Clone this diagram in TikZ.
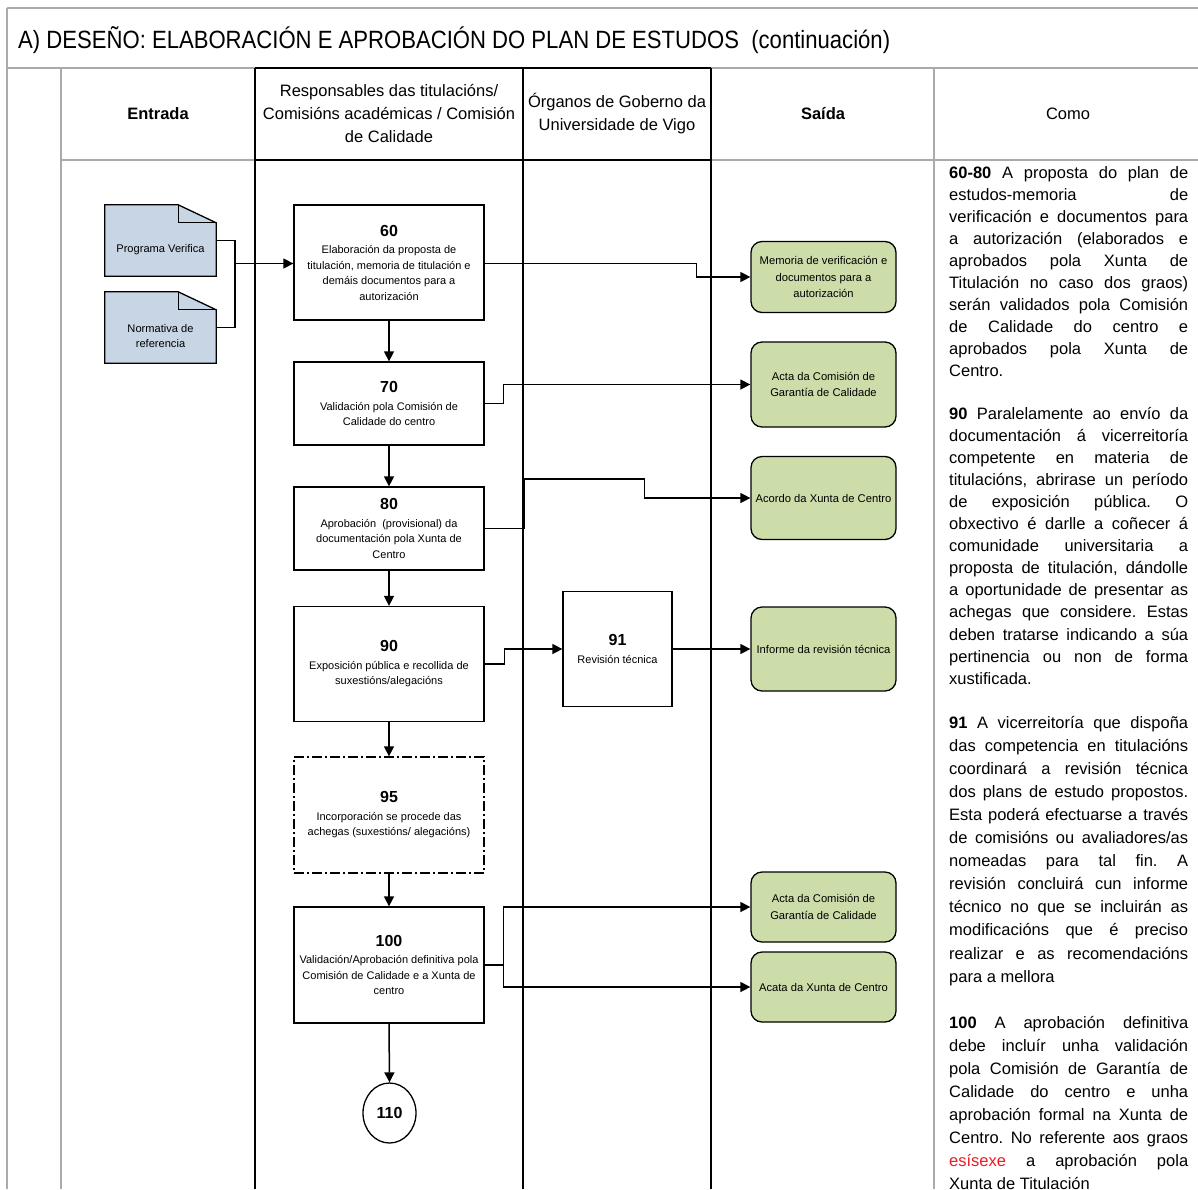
\documentclass[tikz,border=0pt]{standalone}
\usepackage{fontspec}
\setmainfont{Liberation Sans}
\newfontfamily\titlefont[FakeStretch=0.884]{Liberation Sans}
\usetikzlibrary{arrows.meta,shapes.geometric,calc}
\definecolor{docblue}{RGB}{200,213,228}
\definecolor{outgreen}{RGB}{205,221,170}
\definecolor{framegray}{RGB}{170,170,170}
\definecolor{txtred}{RGB}{235,28,36}
\newcommand{\bn}[1]{{\fontsize{16}{16}\selectfont\bfseries #1}}
\newcommand{\comopar}{\frenchspacing\tolerance=10000\relax\hbadness=10000\relax\hyphenpenalty=10000\relax\exhyphenpenalty=10000\relax}
\tikzset{
  frame/.style={draw=framegray, line width=1.5pt},
  lane/.style={draw=black, line width=1.4pt},
  procbox/.style={draw, line width=1.3pt, minimum width=190pt, inner sep=0pt, align=center, font=\fontsize{11}{15.5}\selectfont},
  outbox/.style={draw, fill=outgreen, rounded corners=11pt, line width=1.3pt, minimum width=145pt, inner sep=0pt, align=center, font=\fontsize{11.2}{16.5}\selectfont},
  docnode/.style={minimum width=111pt, minimum height=71pt, inner sep=0pt},
  doctext/.style={align=center, font=\fontsize{11.1}{15.7}\selectfont, inner sep=0pt},
  conn/.style={line width=1.5pt},
  arr/.style={line width=1.5pt, -{Triangle[length=10pt,width=10pt]}},
  hdr/.style={align=center, font=\fontsize{16.5}{23}\selectfont, inner sep=0pt},
  como/.style={anchor=base west, text width=239pt, align=justify, inner sep=0pt,
    font=\fontsize{16.5}{#1}\selectfont\comopar},
  como/.default=22.1,
}
\begin{document}
\begin{tikzpicture}[x=1pt,y=-1pt]
\useasboundingbox (0,0) rectangle (1198,1189);
\fill[white] (0,0) rectangle (1198,1189);
\clip (0,0) rectangle (1198,1189);

% frame
\draw[frame] (7,8) -- (1198,8);
\draw[frame] (7,8) -- (7,1189);
\draw[frame] (7,68) -- (1198,68);
\draw[frame] (61,68) -- (61,1189);
\draw[frame] (61,160) -- (1198,160);
\draw[frame] (934,68) -- (934,1189);
\draw[lane] (255,68) -- (255,1189);
\draw[lane] (523,68) -- (523,1189);
\draw[lane] (711,68) -- (711,1189);
\draw[lane] (255,68) -- (711,68);
\draw[lane] (255,160) -- (711,160);

% title and headers
\node[anchor=base west, inner sep=0pt, font=\fontsize{25}{27}\titlefont] (title) at (18,48)
  {A) DESEÑO: ELABORACIÓN E APROBACIÓN DO PLAN DE ESTUDOS\ \ (continuación)};
\node[hdr, font=\fontsize{16.5}{23}\selectfont\bfseries] (hEnt) at (158,114) {Entrada};
\node[hdr] (hResp) at (389,114) {Responsables das titulacións/\\Comisións académicas / Comisión\\de Calidade};
\node[hdr] (hOrg) at (617,114) {Órganos de Goberno da\\Universidade de Vigo};
\node[hdr, font=\fontsize{16.5}{23}\selectfont\bfseries] (hSai) at (823,114) {Saída};
\node[hdr] (hComo) at (1068,114) {Como};

% input documents
\node[docnode] (pv) at (160.5,240.5) {};
\draw[fill=docblue, line width=1.3pt] (pv.north west) -- ([xshift=-38pt]pv.north east) -- ([yshift=-18pt]pv.north east) -- (pv.south east) -- (pv.south west) -- cycle;
\draw[line width=1.3pt] ([xshift=-38pt]pv.north east) -- ([xshift=-38pt,yshift=-18pt]pv.north east) -- ([yshift=-18pt]pv.north east);
\node[doctext] (pvt) at (160.5,250) {Programa Verifica};

\node[docnode] (nr) at (160.5,327.5) {};
\draw[fill=docblue, line width=1.3pt] (nr.north west) -- ([xshift=-38pt]nr.north east) -- ([yshift=-18pt]nr.north east) -- (nr.south east) -- (nr.south west) -- cycle;
\draw[line width=1.3pt] ([xshift=-38pt]nr.north east) -- ([xshift=-38pt,yshift=-18pt]nr.north east) -- ([yshift=-18pt]nr.north east);
\node[doctext] (nrt) at (160.5,336) {Normativa de\\referencia};

% process boxes
\node[procbox, minimum height=115pt] (b60) at (389,262.5) {\bn{60}\\[2pt]Elaboración da proposta de\\titulación, memoria de titulación e\\demáis documentos para a\\autorización};
\node[procbox, minimum height=83pt] (b70) at (389,403.5) {\bn{70}\\[2pt]Validación pola Comisión de\\Calidade do centro};
\node[procbox, minimum height=83pt] (b80) at (389,528.5) {\bn{80}\\[2pt]Aprobación \ (provisional) da\\documentación pola Xunta de\\Centro};
\node[procbox, minimum height=115pt] (b90) at (389,664) {\bn{90}\\[2pt]Exposición pública e recollida de\\suxestións/alegacións};
\node[procbox, minimum width=109pt, minimum height=115pt] (b91) at (617.5,649) {\bn{91}\\[2pt]Revisión técnica};
\node[procbox, minimum height=116pt, dash pattern=on 10pt off 3pt on 2pt off 3pt] (b95) at (389,815) {\bn{95}\\[2pt]Incorporación se procede das\\achegas (suxestións/ alegacións)};
\node[procbox, minimum height=116pt] (b100) at (389,965) {\bn{100}\\[2pt]Validación/Aprobación definitiva pola\\Comisión de Calidade e a Xunta de\\centro};
\node[draw, ellipse, line width=1.3pt, minimum width=53pt, minimum height=60pt, inner sep=0pt, font=\fontsize{16}{16}\selectfont\bfseries] (c110) at (389.5,1113) {110};

% outputs
\node[outbox, minimum height=71pt] (mem) at (823.5,277) {Memoria de verificación e\\documentos para a\\autorización};
\node[outbox, minimum height=85pt] (a1) at (823.5,384.5) {Acta da Comisión de\\Garantía de Calidade};
\node[outbox, minimum height=83pt] (acx) at (823.5,498) {Acordo da Xunta de Centro};
\node[outbox, minimum height=84pt] (inf) at (823.5,649) {Informe da revisión técnica};
\node[outbox, minimum height=70pt] (a2) at (823.5,907) {Acta da Comisión de\\Garantía de Calidade};
\node[outbox, minimum height=70pt] (ax) at (823.5,987) {Acata da Xunta de Centro};

% connectors
\coordinate (mj) at (235,263.5);
\draw[conn] (pv.east) -| (mj) |- (nr.east);
\draw[arr] (mj) -- (b60.west |- mj);
\draw[arr] (b60.east |- mj) -| ([xshift=-54pt]mem.west) -- (mem.west);
\draw[arr] (b70.east) -- ++(19,0) |- (a1.west);
\draw[arr] (b80.east) -- ++(40,0) -- ++(0,-49.5) -| ([xshift=-106pt]acx.west) -- (acx.west);
\draw[arr] (b90.east) -- ++(20,0) |- (b91.west);
\draw[arr] (b91.east) -- (inf.west);
\draw[conn] (b100.east) -- ++(19,0) coordinate (s100);
\draw[arr] (s100) |- (a2.west);
\draw[arr] (s100) |- (ax.west);
\draw[arr] (b60.south) -- (b70.north);
\draw[arr] (b70.south) -- (b80.north);
\draw[arr] (b80.south) -- (b90.north);
\draw[arr] (b90.south) -- (b95.north);
\draw[arr] (b95.south) -- (b100.north);
\draw[arr] (b100.south) -- (c110.north);

% Como text
\node[como] (como1) at (949,178) {\textbf{60-80} A proposta do plan de\linebreak estudos-memoria de\linebreak verificación e documentos para\linebreak a autorización (elaborados e\linebreak aprobados pola Xunta de\linebreak Titulación no caso dos graos)\linebreak serán validados pola Comisión\linebreak de Calidade do centro e\linebreak aprobados pola Xunta de\linebreak Centro.};
\node[como] (como2) at (949,419) {\textbf{90} Paralelamente ao envío da\linebreak documentación á vicerreitoría\linebreak competente en materia de\linebreak titulacións, abrirase un período\linebreak de exposición pública. O\linebreak obxectivo é darlle a coñecer á\linebreak comunidade universitaria a\linebreak proposta de titulación, dándolle\linebreak a oportunidade de presentar as\linebreak achegas que considere. Estas\linebreak deben tratarse indicando a súa\linebreak pertinencia ou non de forma\linebreak xustificada.};
\node[como=23.1] (como3) at (949,728) {\textbf{91} A vicerreitoría que dispoña\linebreak das competencia en titulacións\linebreak coordinará a revisión técnica\linebreak dos plans de estudo propostos.\linebreak Esta poderá efectuarse a través\linebreak de comisións ou avaliadores/as\linebreak nomeadas para tal fin. A\linebreak revisión concluirá cun informe\linebreak técnico no que se incluirán as\linebreak modificacións que é preciso\linebreak realizar e as recomendacións\linebreak para a mellora};
\node[como=23] (como4) at (949,1028) {\textbf{100} A aprobación definitiva\linebreak debe incluír unha validación\linebreak pola Comisión de Garantía de\linebreak Calidade do centro e unha\linebreak aprobación formal na Xunta de\linebreak Centro. No referente aos graos\linebreak \textcolor{txtred}{esísexe} a aprobación pola\linebreak Xunta de Titulación};
\end{tikzpicture}
\end{document}
